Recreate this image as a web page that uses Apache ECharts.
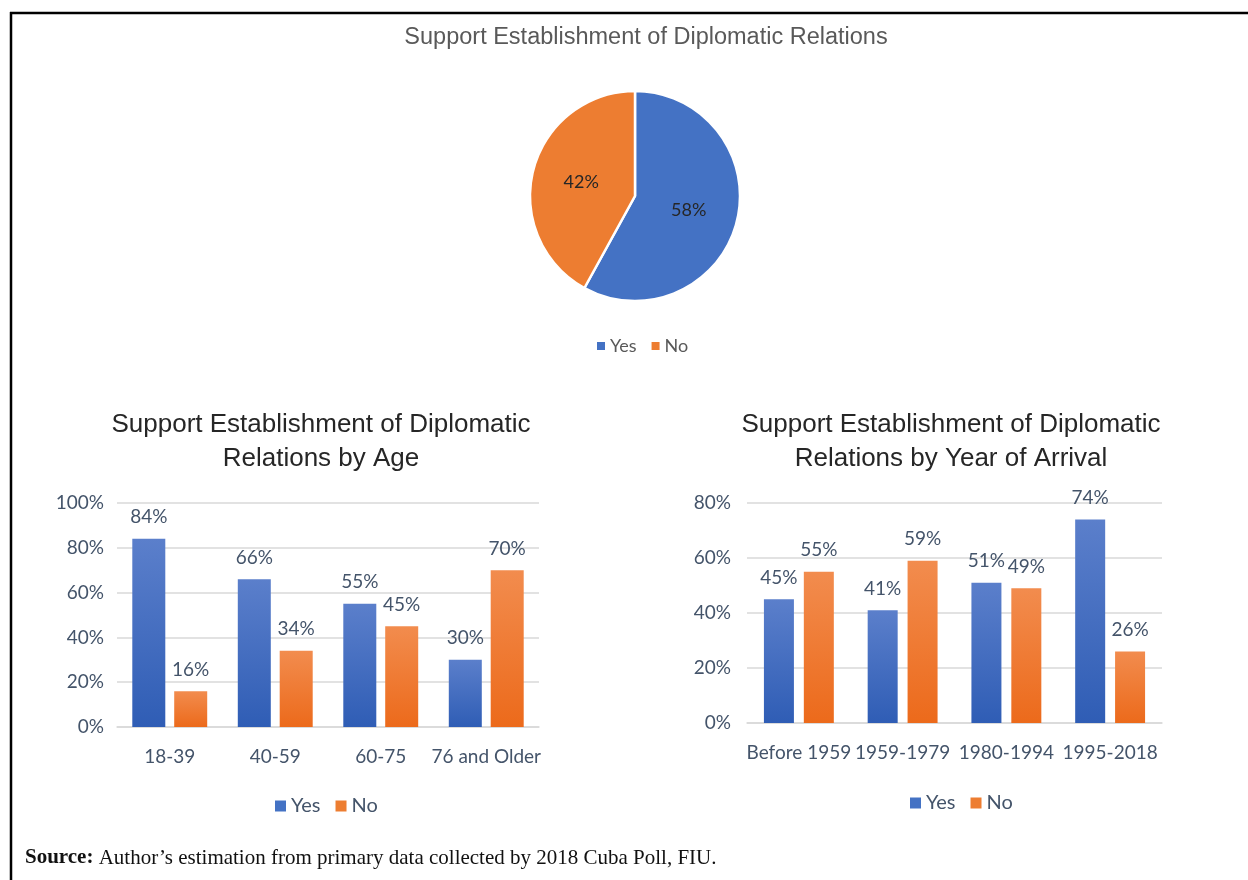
<!DOCTYPE html>
<html>
<head>
<meta charset="utf-8">
<title>Support Establishment of Diplomatic Relations</title>
<script src="https://cdn.jsdelivr.net/npm/echarts@6/dist/echarts.min.js"></script>
<style>
  html, body { margin: 0; padding: 0; background: #fff; }
  #main { width: 1248px; height: 880px; }
</style>
</head>
<body>
<div id="main"></div>
<script>
// data
var pieNames = ['Yes', 'No'];
var pieValues = [58, 42];

var ageCategories = ['18-39', '40-59', '60-75', '76 and Older'];
var ageYes = [84, 66, 55, 30];
var ageNo = [16, 34, 45, 70];

var arrivalCategories = ['Before 1959', '1959-1979', '1980-1994', '1995-2018'];
var arrivalYes = [45, 41, 51, 74];
var arrivalNo = [55, 59, 49, 26];

var blue = '#4472C4';
var orange = '#ED7D31';
var labelColor = '#44546A';
var gridColor = '#D9D9D9';
var sans = 'Lato';

function fill(top, bottom) {
  return new echarts.graphic.LinearGradient(0, 0, 0, 1, [
    { offset: 0, color: top },
    { offset: 1, color: bottom }
  ]);
}

function barSeries(name, data, idx, color, width, gap) {
  return {
    name: name,
    type: 'bar',
    xAxisIndex: idx,
    yAxisIndex: idx,
    data: data,
    barWidth: width,
    barGap: gap,
    itemStyle: { color: color },
    label: {
      show: true,
      position: 'top',
      distance: 12,
      formatter: '{c}%',
      fontSize: 19,
      fontFamily: sans,
      color: labelColor
    }
  };
}

function catAxis(idx, data) {
  return {
    type: 'category',
    gridIndex: idx,
    data: data,
    axisTick: { show: false },
    axisLine: { lineStyle: { color: gridColor, width: 1.5 } },
    axisLabel: { interval: 0, fontSize: 19, fontFamily: sans, color: labelColor, margin: 20 }
  };
}

function valAxis(idx, max, margin) {
  return {
    type: 'value',
    gridIndex: idx,
    min: 0,
    max: max,
    interval: 20,
    axisLine: { show: false },
    axisTick: { show: false },
    axisLabel: { formatter: '{value}%', fontSize: 19, fontFamily: sans, color: labelColor, margin: margin },
    splitLine: { lineStyle: { color: gridColor, width: 1.5 } }
  };
}

function legendFor(left, top, size, icon, color) {
  return {
    data: [
      { name: 'Yes', itemStyle: { color: blue } },
      { name: 'No', itemStyle: { color: orange } }
    ],
    left: left,
    top: top,
    icon: 'rect',
    itemWidth: icon,
    itemHeight: icon,
    itemGap: 15,
    selectedMode: false,
    textStyle: { fontSize: size, fontFamily: sans, color: color }
  };
}

var myChart = echarts.init(document.getElementById('main'));

myChart.setOption({
  animation: false,
  backgroundColor: '#fff',
  graphic: [
    // frame
    { type: 'line', shape: { x1: 10, y1: 13, x2: 1248, y2: 13 }, style: { stroke: '#000', lineWidth: 2.5 } },
    { type: 'line', shape: { x1: 11, y1: 12, x2: 11, y2: 880 }, style: { stroke: '#000', lineWidth: 2.5 } },
    {
      type: 'text', x: 646, y: 38,
      style: {
        text: 'Support Establishment of Diplomatic Relations',
        fontSize: 23.5, fontFamily: 'Liberation Sans', fill: '#595959',
        align: 'center', verticalAlign: 'middle'
      }
    },
    {
      type: 'text', x: 321, y: 442,
      style: {
        text: 'Support Establishment of Diplomatic\nRelations by Age',
        fontSize: 26, fontFamily: 'Liberation Sans', fill: '#262626', lineHeight: 34,
        align: 'center', verticalAlign: 'middle'
      }
    },
    {
      type: 'text', x: 951, y: 442,
      style: {
        text: 'Support Establishment of Diplomatic\nRelations by Year of Arrival',
        fontSize: 26, fontFamily: 'Liberation Sans', fill: '#262626', lineHeight: 34,
        align: 'center', verticalAlign: 'middle'
      }
    },
    {
      type: 'text', x: 25, y: 858,
      style: {
        text: '{b|Source:} Author\u2019s estimation from primary data collected by 2018 Cuba Poll, FIU.',
        fontSize: 21, fontFamily: 'Liberation Serif', fill: '#111',
        verticalAlign: 'middle',
        rich: {
          b: { fontSize: 21, fontFamily: 'Liberation Serif', fontWeight: 'bold', fill: '#111' }
        }
      }
    }
  ],
  legend: [
    legendFor(592, 332, 18, 8, '#595959'),
    legendFor(270, 791, 20, 11, labelColor),
    legendFor(905, 788, 20, 11, labelColor)
  ],
  grid: [
    { left: 117, right: 709, top: 503, bottom: 153 },
    { left: 747, right: 86, top: 503, bottom: 157 }
  ],
  xAxis: [catAxis(0, ageCategories), catAxis(1, arrivalCategories)],
  yAxis: [valAxis(0, 100, 13), valAxis(1, 80, 16)],
  series: [
    {
      name: 'Support',
      type: 'pie',
      center: [635, 196],
      radius: 105,
      startAngle: 90,
      clockwise: true,
      data: pieNames.map(function (n, i) {
        return { name: n, value: pieValues[i], itemStyle: { color: i === 0 ? blue : orange } };
      }),
      itemStyle: { borderColor: '#fff', borderWidth: 2.5 },
      label: {
        show: true,
        position: 'inside',
        formatter: '{c}%',
        fontSize: 18,
        fontFamily: sans,
        color: '#262626'
      },
      labelLine: { show: false }
    },
    barSeries('Yes', ageYes, 0, fill('#5B7FCB', '#2F5DB5'), 33, '27%'),
    barSeries('No', ageNo, 0, fill('#F28C4E', '#EC6A1B'), 33, '27%'),
    barSeries('Yes', arrivalYes, 1, fill('#5B7FCB', '#2F5DB5'), 30, '33%'),
    barSeries('No', arrivalNo, 1, fill('#F28C4E', '#EC6A1B'), 30, '33%')
  ]
});
</script>
</body>
</html>
